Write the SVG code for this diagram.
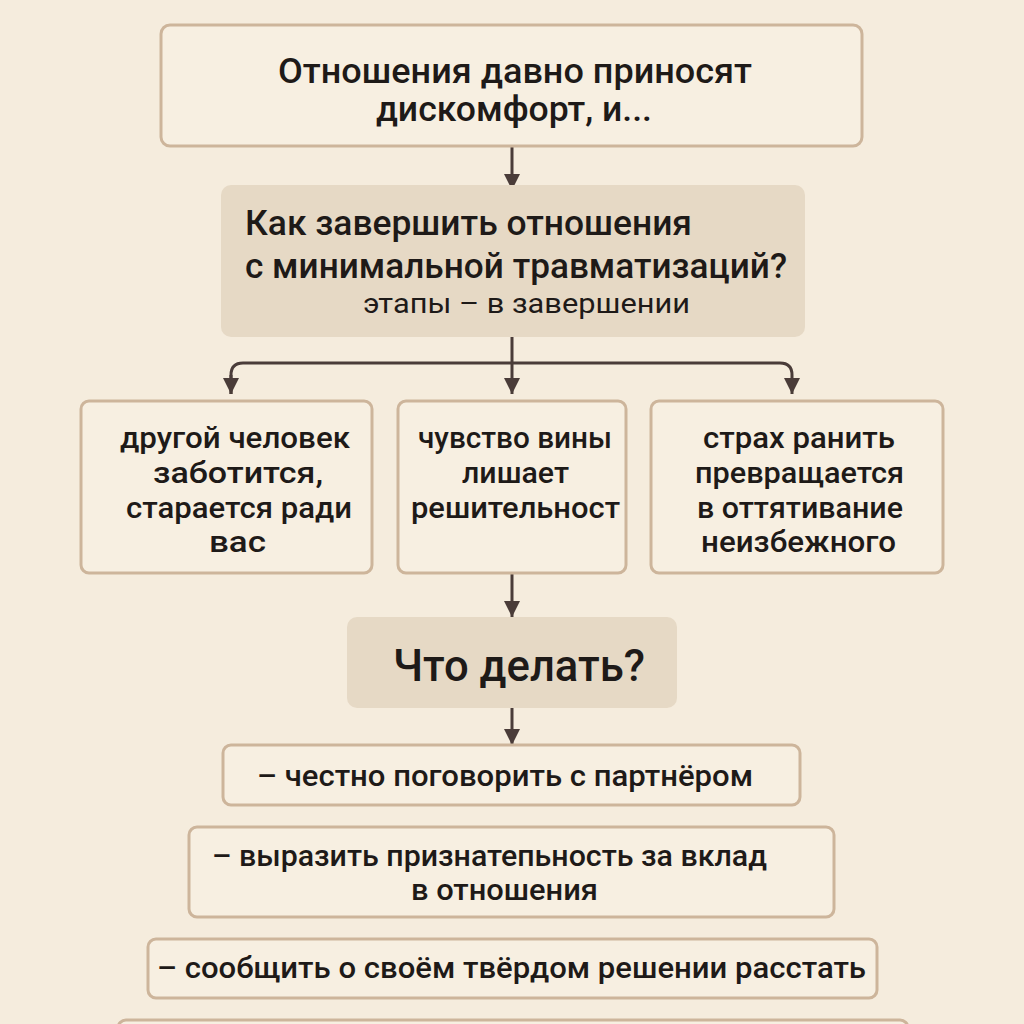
<svg xmlns="http://www.w3.org/2000/svg" width="1024" height="1024" viewBox="0 0 1024 1024">
<defs>
<style>
.box{fill:#f7efe1;stroke:#cdb59b;stroke-width:3}
.dark{fill:#e6d9c5}
.t{font-family:Roboto,"Liberation Sans",sans-serif;fill:#1e1a18;font-weight:500}
.conn{fill:none;stroke:#4a3c39;stroke-width:3}
</style>
<marker id="ah" markerUnits="userSpaceOnUse" markerWidth="18" markerHeight="16" refX="16" refY="8" orient="auto">
<path d="M0,0 L16,8 L0,16 z" fill="#4a3c39"/>
</marker>
</defs>
<rect width="1024" height="1024" fill="#f5ecdd"/>
<g id="connectors">
<path class="conn" d="M512,146 V190" marker-end="url(#ah)"/>
<path class="conn" d="M512,337 V394" marker-end="url(#ah)"/>
<path class="conn" d="M231,394 V375 Q231,363 243,363 H780 Q792,363 792,375 V394" marker-end="url(#ah)"/>
<path class="conn" d="M231,375 V394" marker-end="url(#ah)"/>
<path class="conn" d="M512,573 V617" marker-end="url(#ah)"/>
<path class="conn" d="M512,708 V745" marker-end="url(#ah)"/>
</g>
<g id="n1">
<rect class="box" x="161" y="25" width="701" height="121" rx="9"/>
<text class="t" font-size="35" x="278" y="83" textLength="474" lengthAdjust="spacingAndGlyphs">Отношения давно приносят</text>
<text class="t" font-size="35" x="376" y="121" textLength="276" lengthAdjust="spacingAndGlyphs">дискомфорт, и...</text>
</g>
<g id="n2">
<rect class="dark" x="221" y="185" width="584" height="152" rx="10"/>
<text class="t" font-size="35" x="245" y="235" textLength="447" lengthAdjust="spacingAndGlyphs">Как завершить отношения</text>
<text class="t" font-size="35" x="245" y="278" textLength="542" lengthAdjust="spacingAndGlyphs">с минимальной травматизаций?</text>
<text class="t" font-size="27" x="363" y="313" textLength="327" lengthAdjust="spacingAndGlyphs" style="font-weight:400">этапы – в завершении</text>
</g>
<g id="n3">
<rect class="box" x="81" y="401" width="291" height="172" rx="8"/>
<text class="t" font-size="30" x="120" y="448" textLength="230" lengthAdjust="spacingAndGlyphs">другой человек</text>
<text class="t" font-size="30" x="153" y="483" textLength="170" lengthAdjust="spacingAndGlyphs">заботится,</text>
<text class="t" font-size="30" x="126" y="518" textLength="226" lengthAdjust="spacingAndGlyphs">старается ради</text>
<text class="t" font-size="30" x="209" y="552" textLength="57" lengthAdjust="spacingAndGlyphs">вас</text>
</g>
<g id="n4">
<rect class="box" x="398" y="401" width="228" height="172" rx="8"/>
<text class="t" font-size="30" x="418" y="448" textLength="194" lengthAdjust="spacingAndGlyphs">чувство вины</text>
<text class="t" font-size="30" x="462" y="483" textLength="107" lengthAdjust="spacingAndGlyphs">лишает</text>
<text class="t" font-size="30" x="411" y="518" textLength="209" lengthAdjust="spacingAndGlyphs">решительност</text>
</g>
<g id="n5">
<rect class="box" x="651" y="401" width="292" height="172" rx="8"/>
<text class="t" font-size="30" x="703" y="448" textLength="192" lengthAdjust="spacingAndGlyphs">страх ранить</text>
<text class="t" font-size="30" x="695" y="483" textLength="209" lengthAdjust="spacingAndGlyphs">превращается</text>
<text class="t" font-size="30" x="697" y="518" textLength="206" lengthAdjust="spacingAndGlyphs">в оттятивание</text>
<text class="t" font-size="30" x="701" y="552" textLength="195" lengthAdjust="spacingAndGlyphs">неизбежного</text>
</g>
<g id="n6">
<rect class="dark" x="347" y="617" width="330" height="91" rx="10"/>
<text class="t" font-size="44" x="393" y="681" textLength="252" lengthAdjust="spacingAndGlyphs">Что делать?</text>
</g>
<g id="n7">
<rect class="box" x="223" y="745" width="577" height="60" rx="8"/>
<text class="t" font-size="30" x="257" y="786" textLength="496" lengthAdjust="spacingAndGlyphs">– честно поговорить с партнёром</text>
</g>
<g id="n8">
<rect class="box" x="189" y="827" width="645" height="90" rx="8"/>
<text class="t" font-size="30" x="212" y="866" textLength="555" lengthAdjust="spacingAndGlyphs">– выразить признатепьность за вклад</text>
<text class="t" font-size="30" x="411" y="900" textLength="187" lengthAdjust="spacingAndGlyphs">в отношения</text>
</g>
<g id="n9">
<rect class="box" x="148" y="939" width="729" height="59" rx="8"/>
<text class="t" font-size="30" x="157" y="978" textLength="709" lengthAdjust="spacingAndGlyphs">– сообщить о своём твёрдом решении расстать</text>
</g>
<g id="n10">
<rect class="box" x="118" y="1020" width="790" height="40" rx="8"/>
</g>
</svg>
